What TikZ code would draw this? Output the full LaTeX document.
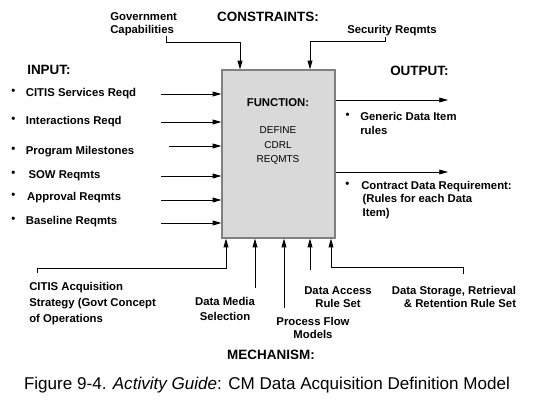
\documentclass[tikz,border=0pt]{standalone}
\usepackage{fontspec}
\setmainfont{Liberation Sans}
\usetikzlibrary{arrows.meta, positioning}
\tikzstyle{function} = [rectangle, minimum width=84.75pt, minimum height=126pt, draw=black!50, line width=0.9pt, fill=black!15]
\tikzstyle{heading} = [inner sep=0pt, font=\bfseries\fontsize{10.1}{12}\selectfont]
\tikzstyle{item} = [inner sep=0pt, align=left, font=\bfseries\fontsize{8.5}{10.3}\selectfont]
\tikzstyle{mech} = [inner sep=0pt, align=center, font=\bfseries\fontsize{8.5}{10}\selectfont]
\tikzstyle{arrow} = [line width=0.6pt, -{Triangle[length=6.5pt, width=3.6pt]}]
\newcommand{\dotmark}{\raisebox{1.5pt}{\textbullet}}

\begin{document}
\begin{tikzpicture}[x=0.75pt, y=-0.75pt]
\useasboundingbox (0,0) rectangle (536,410);

\node (func) [function] at (278.5,154) {};
\node (funcname) [heading, font=\bfseries\fontsize{8.5}{10}\selectfont] at (278,103) {FUNCTION:};
\node (functext) [inner sep=0pt, align=center, font=\fontsize{7.5}{11.2}\selectfont, below=14pt of funcname] {DEFINE\\CDRL\\REQMTS};

% headings
\node (constraints) [heading] at (268,17) {CONSTRAINTS:};
\node (input) [heading, anchor=west] at (27,70) {INPUT:};
\node (output) [heading, anchor=west] at (390,71) {OUTPUT:};
\node (mechanism) [heading] at (271,355) {MECHANISM:};

% constraints
\node (gov) [item, font=\bfseries\fontsize{8.5}{9.8}\selectfont, anchor=north west] at (110,12) {Government\\Capabilities};
\node (sec) [item, anchor=west] at (347,31) {Security Reqmts};
\coordinate (g1) at (166,42);
\coordinate (g2) at (240,42);
\coordinate (s1) at (385,41);
\coordinate (s2) at (310,41);
\draw [arrow] (gov.south -| g1) -- (g1) -- (g2) -- (g2 |- func.north);
\draw [arrow] (sec.south -| s1) -- (s1) -- (s2) -- (s2 |- func.north);

% inputs
\node (in1) [item, anchor=west] at (11,94) {\dotmark\hspace{8pt}CITIS Services Reqd};
\node (in2) [item, anchor=west] at (11,122) {\dotmark\hspace{8pt}Interactions Reqd};
\node (in3) [item, anchor=west] at (11,152) {\dotmark\hspace{8pt}Program Milestones};
\node (in4) [item, anchor=west] at (11,176) {\dotmark\hspace{10pt}SOW Reqmts};
\node (in5) [item, anchor=west] at (11,198) {\dotmark\hspace{9pt}Approval Reqmts};
\node (in6) [item, anchor=west] at (11,222) {\dotmark\hspace{8pt}Baseline Reqmts};
\coordinate (i1) at (161,94);
\coordinate (i2) at (161,122);
\coordinate (i3) at (169,146);
\coordinate (i4) at (161,176);
\coordinate (i5) at (161,200);
\coordinate (i6) at (161,223);
\foreach \i in {1,...,6}
  \draw [arrow] (i\i) -- (i\i -| func.west);

% outputs
\coordinate (o1) at (448,100);
\coordinate (o2) at (448,172);
\draw [arrow] (func.east |- o1) -- (o1);
\draw [arrow] (func.east |- o2) -- (o2);
\node (out1) [item, anchor=north west] at (360,112) {\llap{\dotmark\hspace{8pt}}Generic Data Item\\rules};
\node (out2) [item, font=\bfseries\fontsize{8.5}{10}\selectfont, anchor=north west] at (361,181) {\llap{\dotmark\hspace{9pt}}Contract Data Requirement:\\\hspace{1pt}(Rules for each Data\\\hspace{1pt}Item)};

% mechanisms
\node (acq) [item, font=\bfseries\fontsize{8.5}{12}\selectfont, anchor=north west] at (29,282) {CITIS Acquisition\\Strategy (Govt Concept\\of Operations};
\node (media) [mech, font=\bfseries\fontsize{8.5}{11}\selectfont] at (225,309) {Data Media\\Selection};
\node (flow) [mech] at (313,328) {Process Flow\\Models};
\node (access) [mech] at (338,297) {Data Access\\Rule Set};
\node (storage) [mech, align=right] at (454,297) {Data Storage, Retrieval\\\& Retention Rule Set};
\coordinate (a0) at (37,273);
\coordinate (a1) at (226,268);
\coordinate (m2) at (255,288);
\coordinate (m3) at (284,308);
\coordinate (m4) at (310,270);
\coordinate (d0) at (463,274);
\coordinate (d1) at (331,267);
\draw [arrow] (a0) |- (a1) -- (a1 |- func.south);
\draw [arrow] (m2) -- (m2 |- func.south);
\draw [arrow] (m3) -- (m3 |- func.south);
\draw [arrow] (m4) -- (m4 |- func.south);
\draw [arrow] (d0) |- (d1) -- (d1 |- func.south);

% caption
\node (caption) [inner sep=0pt, font=\fontsize{12.8}{14}\selectfont] at (267,385) {Figure 9-4. \textit{Activity Guide}: CM Data Acquisition Definition Model};
\end{tikzpicture}
\end{document}
